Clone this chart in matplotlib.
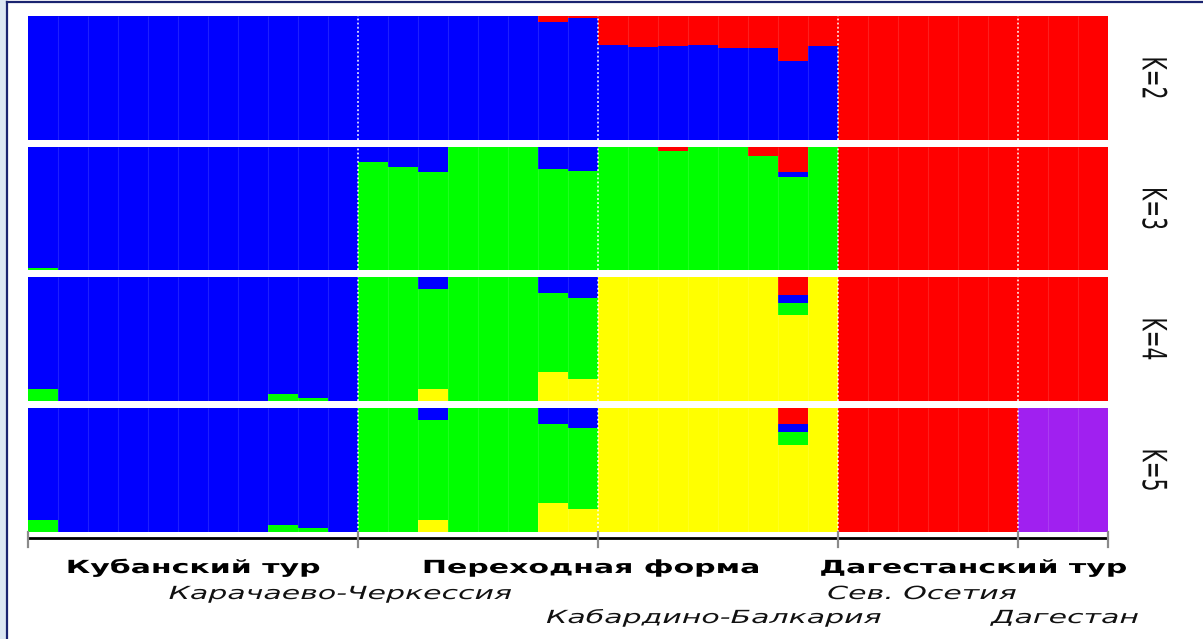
import numpy as np
import matplotlib
matplotlib.use("Agg")
import matplotlib.pyplot as plt
from matplotlib import patheffects
from matplotlib.lines import Line2D
from matplotlib.patches import Rectangle
from matplotlib.transforms import Affine2D, blended_transform_factory

# --- admixture proportions, one value per individual (36 animals) ---
# group sizes: Kuban/KChR 11, transitional/KChR 8, transitional/KBR 8, N.Ossetia 6, Dagestan 3
group_bounds = [0, 11, 19, 27, 33, 36]

k2_blue = [1, 1, 1, 1, 1, 1, 1, 1, 1, 1, 1,
           1, 1, 1, 1, 1, 1, 0.95, 0.98,
           0.77, 0.75, 0.76, 0.77, 0.74, 0.74, 0.64, 0.76,
           0, 0, 0, 0, 0, 0, 0, 0, 0]
k2_red = [0, 0, 0, 0, 0, 0, 0, 0, 0, 0, 0,
          0, 0, 0, 0, 0, 0, 0.05, 0.02,
          0.23, 0.25, 0.24, 0.23, 0.26, 0.26, 0.36, 0.24,
          1, 1, 1, 1, 1, 1, 1, 1, 1]

k3_green = [0.02, 0, 0, 0, 0, 0, 0, 0, 0, 0, 0,
            0.88, 0.835, 0.80, 1, 1, 1, 0.82, 0.805,
            1, 1, 0.97, 1, 1, 0.93, 0.76, 1,
            0, 0, 0, 0, 0, 0, 0, 0, 0]
k3_blue = [0.98, 1, 1, 1, 1, 1, 1, 1, 1, 1, 1,
           0.12, 0.165, 0.20, 0, 0, 0, 0.18, 0.195,
           0, 0, 0, 0, 0, 0, 0.04, 0,
           0, 0, 0, 0, 0, 0, 0, 0, 0]
k3_red = [0, 0, 0, 0, 0, 0, 0, 0, 0, 0, 0,
          0, 0, 0, 0, 0, 0, 0, 0,
          0, 0, 0.03, 0, 0, 0.07, 0.20, 0,
          1, 1, 1, 1, 1, 1, 1, 1, 1]

k4_yellow = [0, 0, 0, 0, 0, 0, 0, 0, 0, 0, 0,
             0, 0, 0.095, 0, 0, 0, 0.23, 0.18,
             1, 1, 1, 1, 1, 1, 0.69, 1,
             0, 0, 0, 0, 0, 0, 0, 0, 0]
k4_green = [0.095, 0, 0, 0, 0, 0, 0, 0, 0.055, 0.025, 0,
            1, 1, 0.805, 1, 1, 1, 0.64, 0.65,
            0, 0, 0, 0, 0, 0, 0.10, 0,
            0, 0, 0, 0, 0, 0, 0, 0, 0]
k4_blue = [0.905, 1, 1, 1, 1, 1, 1, 1, 0.945, 0.975, 1,
           0, 0, 0.10, 0, 0, 0, 0.13, 0.17,
           0, 0, 0, 0, 0, 0, 0.065, 0,
           0, 0, 0, 0, 0, 0, 0, 0, 0]
k4_red = [0, 0, 0, 0, 0, 0, 0, 0, 0, 0, 0,
          0, 0, 0, 0, 0, 0, 0, 0,
          0, 0, 0, 0, 0, 0, 0.145, 0,
          1, 1, 1, 1, 1, 1, 1, 1, 1]

k5_yellow = [0, 0, 0, 0, 0, 0, 0, 0, 0, 0, 0,
             0, 0, 0.10, 0, 0, 0, 0.23, 0.185,
             1, 1, 1, 1, 1, 1, 0.705, 1,
             0, 0, 0, 0, 0, 0, 0, 0, 0]
k5_green = [0.10, 0, 0, 0, 0, 0, 0, 0, 0.055, 0.03, 0,
            1, 1, 0.80, 1, 1, 1, 0.64, 0.655,
            0, 0, 0, 0, 0, 0, 0.10, 0,
            0, 0, 0, 0, 0, 0, 0, 0, 0]
k5_blue = [0.90, 1, 1, 1, 1, 1, 1, 1, 0.945, 0.97, 1,
           0, 0, 0.10, 0, 0, 0, 0.13, 0.16,
           0, 0, 0, 0, 0, 0, 0.065, 0,
           0, 0, 0, 0, 0, 0, 0, 0, 0]
k5_red = [0, 0, 0, 0, 0, 0, 0, 0, 0, 0, 0,
          0, 0, 0, 0, 0, 0, 0, 0,
          0, 0, 0, 0, 0, 0, 0.13, 0,
          1, 1, 1, 1, 1, 1, 0, 0, 0]
k5_purple = [0, 0, 0, 0, 0, 0, 0, 0, 0, 0, 0,
             0, 0, 0, 0, 0, 0, 0, 0,
             0, 0, 0, 0, 0, 0, 0, 0,
             0, 0, 0, 0, 0, 0, 1, 1, 1]

k_labels = ["K=2", "K=3", "K=4", "K=5"]
taxon_labels = ["Кубанский тур", "Переходная форма", "Дагестанский тур"]
taxon_pos = [5.5, 18.75, 31.5]
region_labels = ["Карачаево-Черкессия", "Сев. Осетия", "Кабардино-Балкария", "Дагестан"]
region_pos = [10.4, 29.8, 22.85, 34.55]
region_row = [0, 0, 1, 1]

BLUE, GREEN, RED, YELLOW, PURPLE = "#0000ff", "#00ff00", "#ff0000", "#ffff00", "#a020f0"

# stacking order bottom -> top for every run
runs = [
    [(k2_blue, BLUE), (k2_red, RED)],
    [(k3_green, GREEN), (k3_blue, BLUE), (k3_red, RED)],
    [(k4_yellow, YELLOW), (k4_green, GREEN), (k4_blue, BLUE), (k4_red, RED)],
    [(k5_yellow, YELLOW), (k5_green, GREEN), (k5_blue, BLUE), (k5_red, RED), (k5_purple, PURPLE)],
]


class Widen(patheffects.AbstractPathEffect):
    """Stretch glyphs horizontally around their visual centre."""

    def __init__(self, factor):
        super().__init__()
        self.factor = factor

    def draw_path(self, renderer, gc, tpath, affine, rgbFace=None):
        ext = tpath.get_extents(affine)
        cx = 0.5 * (ext.x0 + ext.x1)
        stretch = Affine2D().translate(-cx, 0).scale(self.factor, 1).translate(cx, 0)
        renderer.draw_path(gc, tpath, affine + stretch, rgbFace)


W, H = 1203, 639
fig = plt.figure(figsize=(W / 100, H / 100), dpi=100)
wide = [Widen(1.66)]

# slide frame
fig.patches.append(Rectangle((0, 0), 6 / W, 1, transform=fig.transFigure, color="#dce7f3", zorder=0))
fig.add_artist(Line2D([6.5 / W, 6.5 / W], [0, 1 - 1.5 / H], transform=fig.transFigure, color="#1a2470", lw=1.6))
fig.add_artist(Line2D([6.5 / W, 1], [1 - 2 / H, 1 - 2 / H], transform=fig.transFigure, color="#1a2470", lw=1.6))

x0_px, x1_px = 28, 1108
panel_px = [(16, 140), (147, 270), (277, 401), (408, 532)]
n = len(k2_blue)
x = np.arange(n)

for (top, bot), layers, lab in zip(panel_px, runs, k_labels):
    ax = fig.add_axes([x0_px / W, 1 - bot / H, (x1_px - x0_px) / W, (bot - top) / H])
    bottom = np.zeros(n)
    for vals, col in layers:
        vals = np.array(vals, dtype=float)
        ax.bar(x, vals, bottom=bottom, width=1.0, align="edge", color=col, linewidth=0)
        bottom += vals
    inner = [i for i in range(1, n) if i not in group_bounds]
    ax.vlines(inner, 0, 1, colors="white", alpha=0.12, lw=0.8)
    ax.vlines(group_bounds[1:-1], 0, 1, colors="white", linestyles=(0, (1.2, 1.5)), lw=1.1)
    ax.set_xlim(0, n)
    ax.set_ylim(0, 1)
    ax.axis("off")
    fig.text(1153 / W, 1 - (top + bot) / 2 / H, lab, rotation=270, ha="center", va="center",
             fontsize=14.5, color="#111111", path_effects=wide)

# population axis below the panels
sax = fig.add_axes([x0_px / W, 1 - 550 / H, (x1_px - x0_px) / W, 20 / H])
sax.set_xlim(0, n)
sax.set_ylim(550, 530)
sax.axis("off")
sax.plot([0, n], [538, 538], color="black", lw=2, solid_capstyle="butt", clip_on=False)
for b in group_bounds:
    sax.plot([b, b], [532, 547], color="#8a8a8a", lw=1.6, clip_on=False)

tr = blended_transform_factory(sax.transData, fig.transFigure)
for lab, pos in zip(taxon_labels, taxon_pos):
    fig.text(pos, 1 - 573 / H, lab, transform=tr, ha="center", va="baseline",
             fontsize=13, fontweight="bold", color="black", path_effects=wide)
for lab, pos, row in zip(region_labels, region_pos, region_row):
    base = 599 if row == 0 else 623
    fig.text(pos, 1 - base / H, lab, transform=tr, ha="center", va="baseline",
             fontsize=13, fontstyle="italic", color="#111111", path_effects=wide)

fig.savefig("out.png", dpi=100)
